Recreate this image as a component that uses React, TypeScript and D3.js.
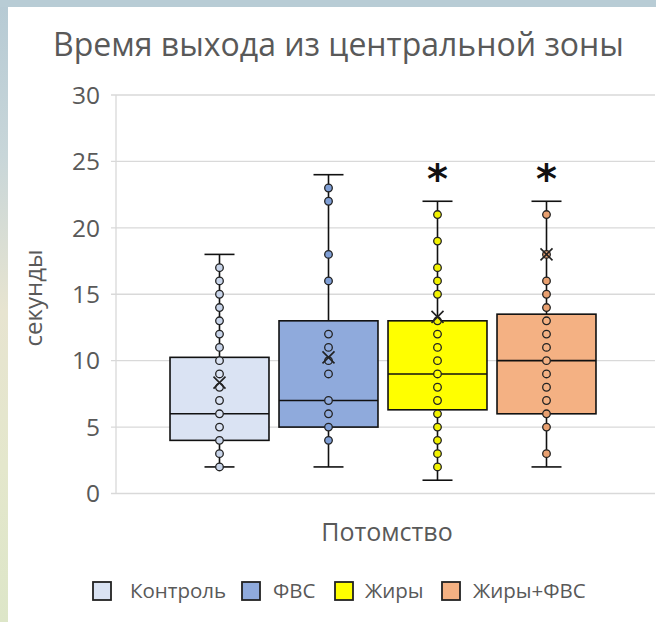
import React from "react";
import * as d3 from "d3";

const categories = ["Контроль", "ФВС", "Жиры", "Жиры+ФВС"];
const whiskerLow = [2, 2, 1, 2];
const q1 = [4, 5, 6.3, 6];
const median = [6, 7, 9, 10];
const q3 = [10.25, 13, 13, 13.5];
const whiskerHigh = [18, 24, 22, 22];
const means = [8.35, 10.25, 13.3, 18];
const pointsControl = [2, 3, 4, 5, 6, 7, 8, 9, 10, 11, 12, 13, 14, 15, 16, 17];
const pointsFvs = [4, 5, 6, 7, 9, 10, 11, 12, 16, 18, 22, 23];
const pointsFat = [2, 3, 4, 5, 6, 7, 8, 9, 10, 11, 12, 13, 15, 16, 17, 19, 21];
const pointsFatFvs = [3, 5, 6, 7, 8, 9, 10, 11, 12, 13, 14, 15, 16, 18, 21];
const points = [pointsControl, pointsFvs, pointsFat, pointsFatFvs];
const significant = [false, false, true, true];
const yTicks = [0, 5, 10, 15, 20, 25, 30];

const fills = ["#dae3f3", "#8faadc", "#ffff00", "#f4b183"];
const dotFills = ["#c9d5ea", "#7f9fd6", "#f2f200", "#e8a070"];

const W = 656;
const H = 622;
const FONT = "'Open Sans', 'Noto Sans', sans-serif";
const GREY = "#595959";

export default function App() {
  const y = d3.scaleLinear().domain([0, 30]).range([493.5, 95]);
  const x = d3.scaleBand<string>().domain(categories).range([165, 601]).padding(0);
  const bw = x.bandwidth() * 0.908;
  const plotLeft = 116;
  const plotRight = 655;

  const legendX = [93, 242, 335, 442];
  const legendTextX = [130, 273, 365, 473];

  return (
    <svg
      width={W}
      height={H}
      style={{ position: "absolute", left: 0, top: 0 }}
      fontFamily={FONT}
    >
      <defs>
        <linearGradient id="leftG" x1="0" y1="0" x2="0" y2="1">
          <stop offset="0" stopColor="#b6cad4" />
          <stop offset="0.25" stopColor="#c8d6d9" />
          <stop offset="0.5" stopColor="#e7e4d0" />
          <stop offset="0.75" stopColor="#e4e7cc" />
          <stop offset="1" stopColor="#dde6c8" />
        </linearGradient>
      </defs>
      <rect x={0} y={0} width={W} height={H} fill="url(#leftG)" />
      <rect x={0} y={0} width={W} height={7} fill="#b8ccd5" />
      <rect x={8} y={7} width={W - 8} height={H - 7} fill="#ffffff" />

      <text x={338.5} y={56} textAnchor="middle" fontSize={32} fill={GREY}>
        Время выхода из центральной зоны
      </text>

      {yTicks.map((t) => (
        <g key={t}>
          <line
            x1={plotLeft - 5}
            x2={plotRight}
            y1={y(t)}
            y2={y(t)}
            stroke="#d9d9d9"
            strokeWidth={1.3}
          />
          <text
            x={100}
            y={y(t)}
            dy="0.36em"
            textAnchor="end"
            fontSize={24.5}
            fill={GREY}
          >
            {t}
          </text>
        </g>
      ))}
      <line x1={plotLeft} x2={plotLeft} y1={y(30)} y2={y(0)} stroke="#d9d9d9" strokeWidth={1.3} />

      <text
        transform={`translate(42,${298}) rotate(-90)`}
        textAnchor="middle"
        fontSize={24}
        fill={GREY}
      >
        секунды
      </text>
      <text x={387} y={541} textAnchor="middle" fontSize={25} fill={GREY}>
        Потомство
      </text>

      {categories.map((c, i) => {
        const cx = (x(c) as number) + x.bandwidth() / 2;
        const left = cx - bw / 2;
        return (
          <g key={c}>
            <line x1={cx} x2={cx} y1={y(whiskerHigh[i])} y2={y(q3[i])} stroke="#111" strokeWidth={1.6} />
            <line x1={cx} x2={cx} y1={y(q1[i])} y2={y(whiskerLow[i])} stroke="#111" strokeWidth={1.6} />
            <line x1={cx - 15} x2={cx + 15} y1={y(whiskerHigh[i])} y2={y(whiskerHigh[i])} stroke="#111" strokeWidth={1.6} />
            <line x1={cx - 15} x2={cx + 15} y1={y(whiskerLow[i])} y2={y(whiskerLow[i])} stroke="#111" strokeWidth={1.6} />
            <rect
              x={left}
              y={y(q3[i])}
              width={bw}
              height={y(q1[i]) - y(q3[i])}
              fill={fills[i]}
              stroke="#111"
              strokeWidth={1.6}
            />
            <line x1={left} x2={left + bw} y1={y(median[i])} y2={y(median[i])} stroke="#111" strokeWidth={1.6} />
            {points[i].map((v, k) => {
              const inside = v > q1[i] && v < q3[i];
              return (
                <circle
                  key={k}
                  cx={cx}
                  cy={y(v)}
                  r={3.8}
                  fill={inside ? fills[i] : dotFills[i]}
                  stroke="#222"
                  strokeWidth={1.3}
                />
              );
            })}
            <path
              d={`M${cx - 6},${y(means[i]) - 6}L${cx + 6},${y(means[i]) + 6}M${cx - 6},${y(means[i]) + 6}L${cx + 6},${y(means[i]) - 6}`}
              stroke="#222"
              strokeWidth={1.6}
              fill="none"
            />
            {significant[i] && (
              <text
                x={cx}
                y={193}
                textAnchor="middle"
                fontSize={40}
                fontWeight="bold"
                fill="#111"
                fontFamily="'DejaVu Sans', sans-serif"
              >
                *
              </text>
            )}
          </g>
        );
      })}

      {categories.map((c, i) => (
        <g key={"lg" + c}>
          <rect x={legendX[i]} y={582} width={18} height={18} fill={fills[i]} stroke="#222" strokeWidth={1.8} />
          <text x={legendTextX[i]} y={598} fontSize={20.5} fill={GREY}>
            {c}
          </text>
        </g>
      ))}
    </svg>
  );
}
